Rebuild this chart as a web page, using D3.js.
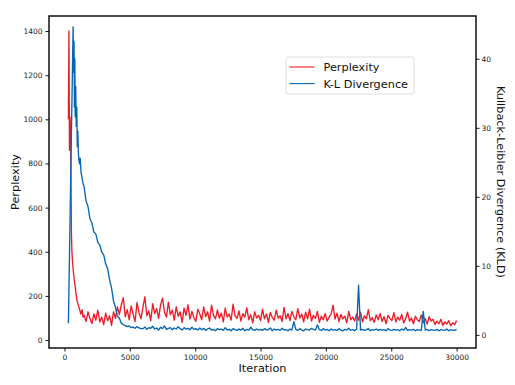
<!DOCTYPE html>
<html>
<head>
<meta charset="utf-8">
<script src="https://cdn.jsdelivr.net/npm/d3@7"></script>
<style>
  body { margin: 0; background: #fff; }
  svg { display: block; font-family: "DejaVu Sans", sans-serif; }
</style>
</head>
<body>
<svg id="chart" width="515" height="385"></svg>
<script>
// warm-up phase, logged irregularly
const perpEarlyIter = [300, 340, 380, 420, 460, 500, 530, 570, 620, 690, 750, 820, 880, 950, 1050, 1150, 1250, 1350, 1420];
const perpEarly = [1000, 1400, 860, 1010, 965, 700, 485, 400, 350, 303, 270, 241, 210, 181, 160, 140, 118, 138, 104];

const kldEarlyIter = [300, 660, 700, 730, 760, 790, 820, 860, 900, 940, 980, 1020, 1060, 1100, 1150, 1200, 1270, 1340, 1420];
const kldEarly = [1.7, 44.6, 38, 42.5, 33, 40, 31.6, 36, 30.2, 33, 27.3, 29.5, 26.5, 25.4, 24.8, 25.6, 23.5, 22.8, 21.9];

// afterwards logged every 150 iterations, from 1500 to 30000
const steadyStart = 1500;
const logEvery = 150;
const perpSteady = [
  112, 84, 128, 96, 75, 118, 90, 135, 82, 104,
  70, 122, 88, 110, 66, 128, 98, 150, 115, 160,
  192, 105, 138, 92, 155, 118, 84, 170, 125, 96,
  148, 196, 110, 132, 88, 165, 120, 142, 98, 158,
  190, 126, 104, 172, 115, 136, 90, 150, 108, 128,
  80, 145, 112, 160, 95, 130, 102, 84, 140, 118,
  92, 150, 106, 128, 86, 158, 112, 96, 136, 100,
  122, 82, 145, 104, 118, 90, 162, 110, 98, 132,
  86, 120, 104, 146, 92, 115, 78, 128, 100, 112,
  88, 140, 96, 118, 80, 125, 102, 90, 135, 98,
  110, 84, 148, 96, 120, 88, 130, 104, 92, 142,
  100, 118, 82, 126, 96, 140, 86, 112, 98, 130,
  80, 108, 92, 120, 86, 104, 118, 158, 95, 122,
  84, 116, 96, 108, 78, 130, 92, 104, 86, 118,
  90, 126, 82, 110, 96, 138, 88, 102, 80, 114,
  92, 120, 84, 106, 74, 112, 98, 88, 124, 82,
  104, 90, 116, 78, 96, 126, 86, 100, 74, 108,
  92, 84, 114, 78, 98, 72, 106, 86, 94, 70,
  86, 74, 94, 66, 82, 72, 88, 64, 78, 70,
  88
];
const kldSteady = [
  21.5, 19.4, 18.6, 16.8, 16.2, 14.9, 14.6, 13.4, 13.0, 12.0,
  11.6, 10.3, 9.6, 8.0, 6.8, 4.9, 4.0, 2.7, 2.4, 1.7,
  1.5, 1.35, 1.2, 1.3, 1.05, 1.15, 0.95, 1.2, 1.0, 0.9,
  0.9, 1.15, 0.8, 1.05, 0.95, 1.25, 0.85, 1.0, 0.7, 1.1,
  0.9, 1.3, 0.8, 0.95, 1.05, 0.75, 1.0, 0.85, 1.2, 0.9,
  0.7, 1.05, 0.85, 0.95, 0.75, 1.1, 0.8, 0.9, 0.7, 1.0,
  0.75, 0.95, 0.65, 0.85, 1.0, 0.7, 0.8, 0.6, 0.9, 0.75,
  0.85, 0.65, 1.05, 0.7, 0.8, 0.6, 0.9, 0.75, 0.65, 0.85,
  0.7, 0.95, 0.6, 0.8, 0.7, 1.1, 0.75, 0.65, 0.85, 0.7,
  0.8, 0.65, 0.9, 0.7, 0.75, 1.0, 0.6, 0.85, 0.7, 0.8,
  0.65, 0.95, 0.7, 0.75, 0.6, 0.85, 0.7, 1.9, 0.8, 0.65,
  0.9, 0.7, 0.6, 0.85, 0.75, 0.7, 0.95, 0.8, 0.7, 1.45,
  0.75, 0.65, 0.9, 0.7, 0.8, 0.6, 0.85, 0.7, 0.75, 0.65,
  0.9, 0.7, 0.6, 0.8, 0.7, 0.95, 0.65, 0.75, 0.6, 0.85,
  7.2, 0.7, 0.8, 0.65, 0.75, 0.9, 0.6, 0.75, 0.7, 0.85,
  0.65, 0.8, 0.7, 0.75, 0.6, 0.9, 0.7, 0.65, 0.8, 0.7,
  0.75, 0.6, 0.85, 0.7, 1.1, 0.65, 0.75, 0.7, 0.8, 0.6,
  0.75, 0.7, 0.65, 3.4, 0.7, 0.8, 0.6, 0.75, 0.7, 0.65,
  0.8, 0.6, 0.75, 0.7, 0.65, 0.85, 0.6, 0.75, 0.7, 0.65,
  0.8
];

const xTicks = [0, 5000, 10000, 15000, 20000, 25000, 30000];
const perpTicks = [0, 200, 400, 600, 800, 1000, 1200, 1400];
const kldTicks = [0, 10, 20, 30, 40];

const RED = "#ed1c24";
const BLUE = "#0565b5";

const margin = { left: 49, right: 39, top: 16, bottom: 37 };
const W = 515, H = 385;

const svg = d3.select("#chart");

const x = d3.scaleLinear().domain([-1185, 31485]).range([margin.left, W - margin.right]);
const yL = d3.scaleLinear().domain([-36, 1468]).range([H - margin.bottom, margin.top]);
const yR = d3.scaleLinear().domain([-1.9, 46.2]).range([H - margin.bottom, margin.top]);

function toPoints(earlyIter, early, steady) {
  const pts = earlyIter.map((it, i) => [it, early[i]]);
  steady.forEach((v, i) => pts.push([steadyStart + i * logEvery, v]));
  return pts;
}

const perpData = toPoints(perpEarlyIter, perpEarly, perpSteady);
const kldData = toPoints(kldEarlyIter, kldEarly, kldSteady);

svg.append("path")
  .datum(perpData)
  .attr("fill", "none")
  .attr("stroke", RED)
  .attr("stroke-width", 1.35)
  .attr("stroke-linejoin", "round")
  .attr("d", d3.line().x(d => x(d[0])).y(d => yL(d[1])));

svg.append("path")
  .datum(kldData)
  .attr("fill", "none")
  .attr("stroke", BLUE)
  .attr("stroke-width", 1.35)
  .attr("stroke-linejoin", "round")
  .attr("d", d3.line().x(d => x(d[0])).y(d => yR(d[1])));

// axes
function styleAxis(g) {
  g.select(".domain").remove();
  g.selectAll(".tick line").attr("stroke", "#000").attr("stroke-width", 0.9);
  g.selectAll(".tick text")
    .attr("fill", "#222")
    .style("font-size", "7.5px")
    .style("font-family", "DejaVu Sans, sans-serif");
}

svg.append("g")
  .attr("transform", `translate(0,${H - margin.bottom})`)
  .call(d3.axisBottom(x).tickValues(xTicks).tickFormat(d3.format("d")).tickSize(3.5).tickPadding(3))
  .call(styleAxis);

svg.append("g")
  .attr("transform", `translate(${margin.left},0)`)
  .call(d3.axisLeft(yL).tickValues(perpTicks).tickFormat(d3.format("d")).tickSize(3.5).tickPadding(3))
  .call(styleAxis);

svg.append("g")
  .attr("transform", `translate(${W - margin.right},0)`)
  .call(d3.axisRight(yR).tickValues(kldTicks).tickFormat(d3.format("d")).tickSize(3.5).tickPadding(2))
  .call(styleAxis);

// frame
svg.append("rect")
  .attr("x", margin.left)
  .attr("y", margin.top)
  .attr("width", W - margin.left - margin.right)
  .attr("height", H - margin.top - margin.bottom)
  .attr("fill", "none")
  .attr("stroke", "#111")
  .attr("stroke-width", 1.5);

// axis labels
svg.append("text")
  .attr("x", (margin.left + W - margin.right) / 2)
  .attr("y", 372)
  .attr("text-anchor", "middle")
  .style("font-size", "11.3px")
  .attr("fill", "#111")
  .text("Iteration");

svg.append("text")
  .attr("transform", `translate(19,${(margin.top + H - margin.bottom) / 2}) rotate(-90)`)
  .attr("text-anchor", "middle")
  .style("font-size", "11.3px")
  .attr("fill", "#111")
  .text("Perplexity");

svg.append("text")
  .attr("transform", `translate(497,${(margin.top + H - margin.bottom) / 2}) rotate(90)`)
  .attr("text-anchor", "middle")
  .style("font-size", "11.3px")
  .attr("fill", "#111")
  .text("Kullback-Leibler Divergence (KLD)");

// legend
const legendItems = [
  { label: "Perplexity", color: RED },
  { label: "K-L Divergence", color: BLUE }
];
const legend = svg.append("g").attr("transform", "translate(286,57)");
legend.append("rect")
  .attr("width", 128)
  .attr("height", 37)
  .attr("rx", 2)
  .attr("fill", "#fff")
  .attr("fill-opacity", 0.8)
  .attr("stroke", "#d6d6d6")
  .attr("stroke-width", 0.8);
legendItems.forEach((item, i) => {
  const yy = 10 + i * 16.6;
  legend.append("line")
    .attr("x1", 3.5).attr("x2", 28.5)
    .attr("y1", yy).attr("y2", yy)
    .attr("stroke", item.color)
    .attr("stroke-width", 1.1);
  legend.append("text")
    .attr("x", 37.5)
    .attr("y", yy + 4)
    .style("font-size", "11.3px")
    .attr("fill", "#111")
    .text(item.label);
});
</script>
</body>
</html>
